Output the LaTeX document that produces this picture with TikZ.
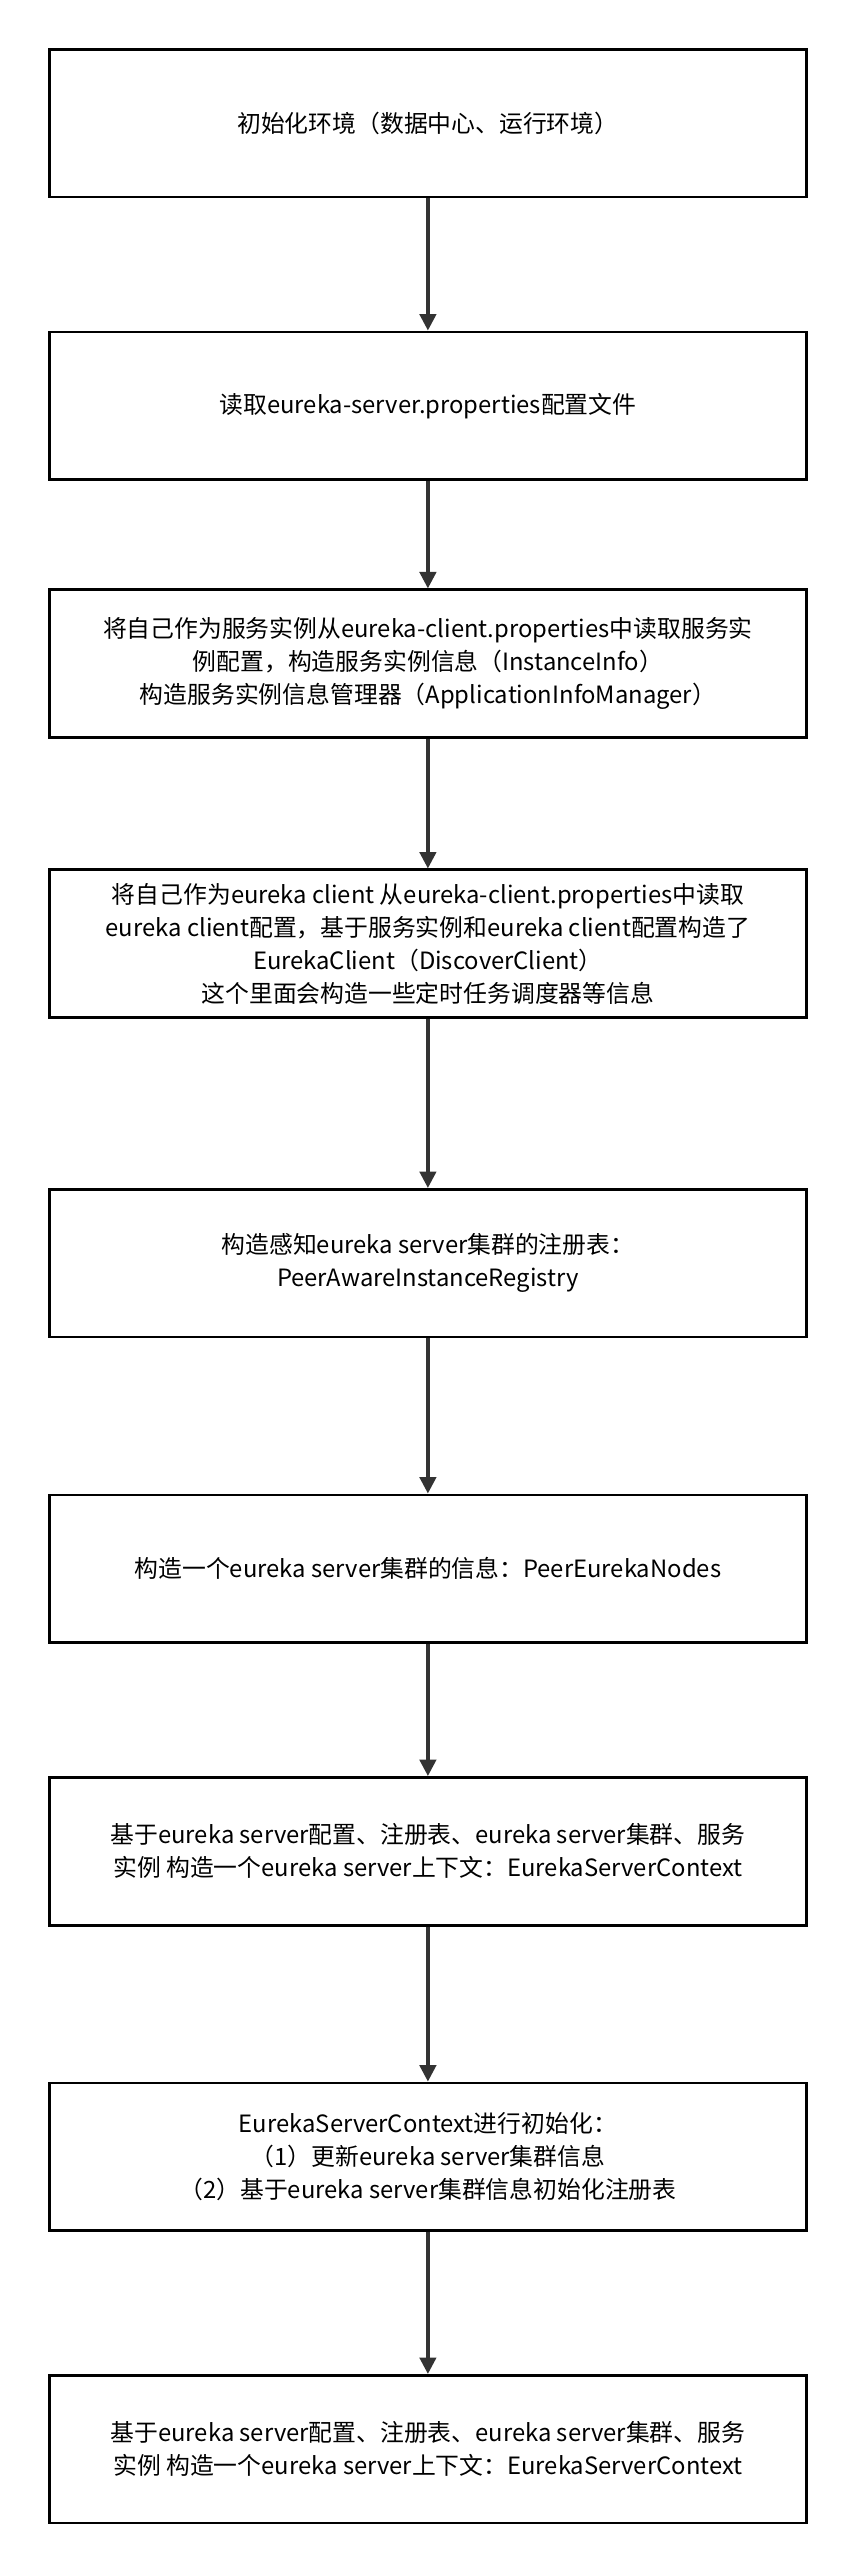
\documentclass[tikz,border=0pt]{standalone}
\usepackage{fontspec}
\setmainfont{Noto Sans CJK SC}
\usetikzlibrary{arrows.meta}
\definecolor{linegray}{HTML}{333333}
\tikzstyle{stage} = [
    draw=black,
    line width=1.6pt,
    shape=rectangle,
    minimum width=461pt,
    minimum height=90pt,
    align=center,
    font=\fontsize{14.5}{20}\selectfont
]
\tikzstyle{flow} = [
    draw=linegray,
    line width=2pt,
    -{Triangle[length=10pt,width=10pt]}
]
\begin{document}
\begin{tikzpicture}[x=1pt,y=-1pt]
\useasboundingbox (0,0) rectangle (521,1567);
\node[stage] (s1) at (260.5,75)   {初始化环境（数据中心、运行环境）};
\node[stage] (s2) at (260.5,247)  {读取eureka-server.properties配置文件};
\node[stage] (s3) at (260.5,404)  {将自己作为服务实例从eureka-client.properties中读取服务实\\例配置，构造服务实例信息（InstanceInfo）\\构造服务实例信息管理器（ApplicationInfoManager）};
\node[stage] (s4) at (260.5,574.5) {将自己作为eureka client 从eureka-client.properties中读取\\eureka client配置，基于服务实例和eureka client配置构造了\\EurekaClient（DiscoverClient）\\这个里面会构造一些定时任务调度器等信息};
\node[stage] (s5) at (260.5,769)  {构造感知eureka server集群的注册表：\\PeerAwareInstanceRegistry};
\node[stage] (s6) at (260.5,955)  {构造一个eureka server集群的信息：PeerEurekaNodes};
\node[stage] (s7) at (260.5,1127) {基于eureka server配置、注册表、eureka server集群、服务\\实例 构造一个eureka server上下文：EurekaServerContext};
\node[stage] (s8) at (260.5,1313) {EurekaServerContext进行初始化：\\（1）更新eureka server集群信息\\（2）基于eureka server集群信息初始化注册表};
\node[stage] (s9) at (260.5,1491) {基于eureka server配置、注册表、eureka server集群、服务\\实例 构造一个eureka server上下文：EurekaServerContext};
\foreach \a/\b in {s1/s2,s2/s3,s3/s4,s4/s5,s5/s6,s6/s7,s7/s8,s8/s9}
    \draw[flow] (\a) -- (\b);
\end{tikzpicture}
\end{document}
